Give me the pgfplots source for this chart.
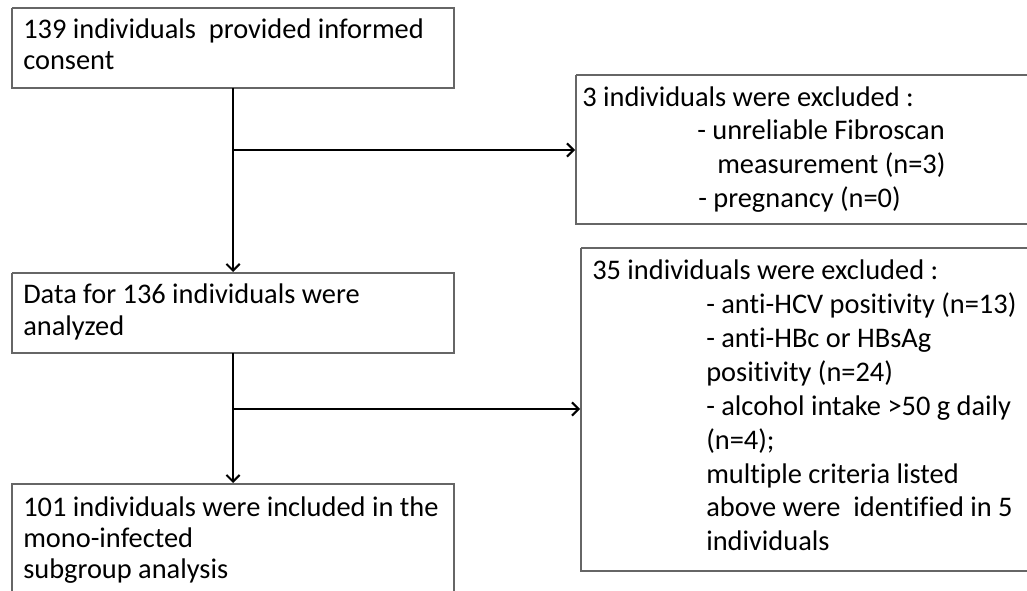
\documentclass[border=0pt]{standalone}
\usepackage{pgfplots}
\pgfplotsset{compat=1.18}
\usepackage{fontspec}
\setmainfont{Carlito}[Ligatures=NoCommon]
\usetikzlibrary{arrows.meta}
\definecolor{boxgray}{HTML}{666666}
\begin{document}
\begin{tikzpicture}
\begin{axis}[
  at={(0,0)}, anchor=south west,
  scale only axis, width=770.25pt, height=443.25pt,
  xmin=0, xmax=1027, ymin=0, ymax=591, y dir=reverse,
  hide axis, clip=true,
  every axis plot/.append style={no markers},
]
% boxes
\addplot[draw=boxgray, line width=1.1pt, line join=miter] coordinates {(12,8) (454,8) (454,88) (12,88) (12,8)};
\addplot[draw=boxgray, line width=1.1pt, line join=miter] coordinates {(576,75) (1040,75) (1040,224) (576,224) (576,75)};
\addplot[draw=boxgray, line width=1.1pt, line join=miter] coordinates {(12,273) (454,273) (454,353) (12,353) (12,273)};
\addplot[draw=boxgray, line width=1.1pt, line join=miter] coordinates {(581,248) (1040,248) (1040,571) (581,571) (581,248)};
\addplot[draw=boxgray, line width=1.1pt, line join=miter] coordinates {(12,610) (12,484) (454,484) (454,610)};
% arrows
\addplot[black, line width=1.5pt, -{Straight Barb[length=5pt,width=10pt]}] coordinates {(233,88) (233,272)};
\addplot[black, line width=1.5pt, -{Straight Barb[length=5pt,width=10pt]}] coordinates {(233,150) (575,150)};
\addplot[black, line width=1.5pt, -{Straight Barb[length=5pt,width=10pt]}] coordinates {(233,353) (233,483)};
\addplot[black, line width=1.5pt, -{Straight Barb[length=5pt,width=10pt]}] coordinates {(233,409) (580,409)};
% texts
\tikzset{tl/.style={anchor=base west, inner sep=0pt, font=\fontsize{21.3}{25}\selectfont}}
\node[tl] at (axis cs:23,39) {139 individuals\ \ provided informed};
\node[tl] at (axis cs:23,70) {consent};
\node[tl] at (axis cs:582,107) {3 individuals were excluded :};
\node[tl] at (axis cs:697,140) {- unreliable Fibroscan};
\node[tl] at (axis cs:717,174) {measurement (n=3)};
\node[tl] at (axis cs:698,208) {- pregnancy (n=0)};
\node[tl] at (axis cs:23,304) {Data for 136 individuals were};
\node[tl] at (axis cs:23,335) {analyzed};
\node[tl] at (axis cs:592,280) {35 individuals were excluded :};
\node[tl] at (axis cs:706,314) {- anti-HCV positivity (n=13)};
\node[tl] at (axis cs:706,347) {- anti-HBc or HBsAg};
\node[tl] at (axis cs:706,381) {positivity (n=24)};
\node[tl] at (axis cs:706,415) {- alcohol intake >50 g daily};
\node[tl] at (axis cs:706,449) {(n=4);};
\node[tl] at (axis cs:706,483) {multiple criteria listed};
\node[tl] at (axis cs:706,516) {above were\ \ identified in 5};
\node[tl] at (axis cs:706,550) {individuals};
\node[tl] at (axis cs:23,516) {101 individuals were included in the};
\node[tl] at (axis cs:23,547) {mono-infected};
\node[tl] at (axis cs:23,578) {subgroup analysis};
\end{axis}
\pgfresetboundingbox
\path[use as bounding box] (0,0) rectangle (770.25pt,443.25pt);
\end{tikzpicture}
\end{document}
